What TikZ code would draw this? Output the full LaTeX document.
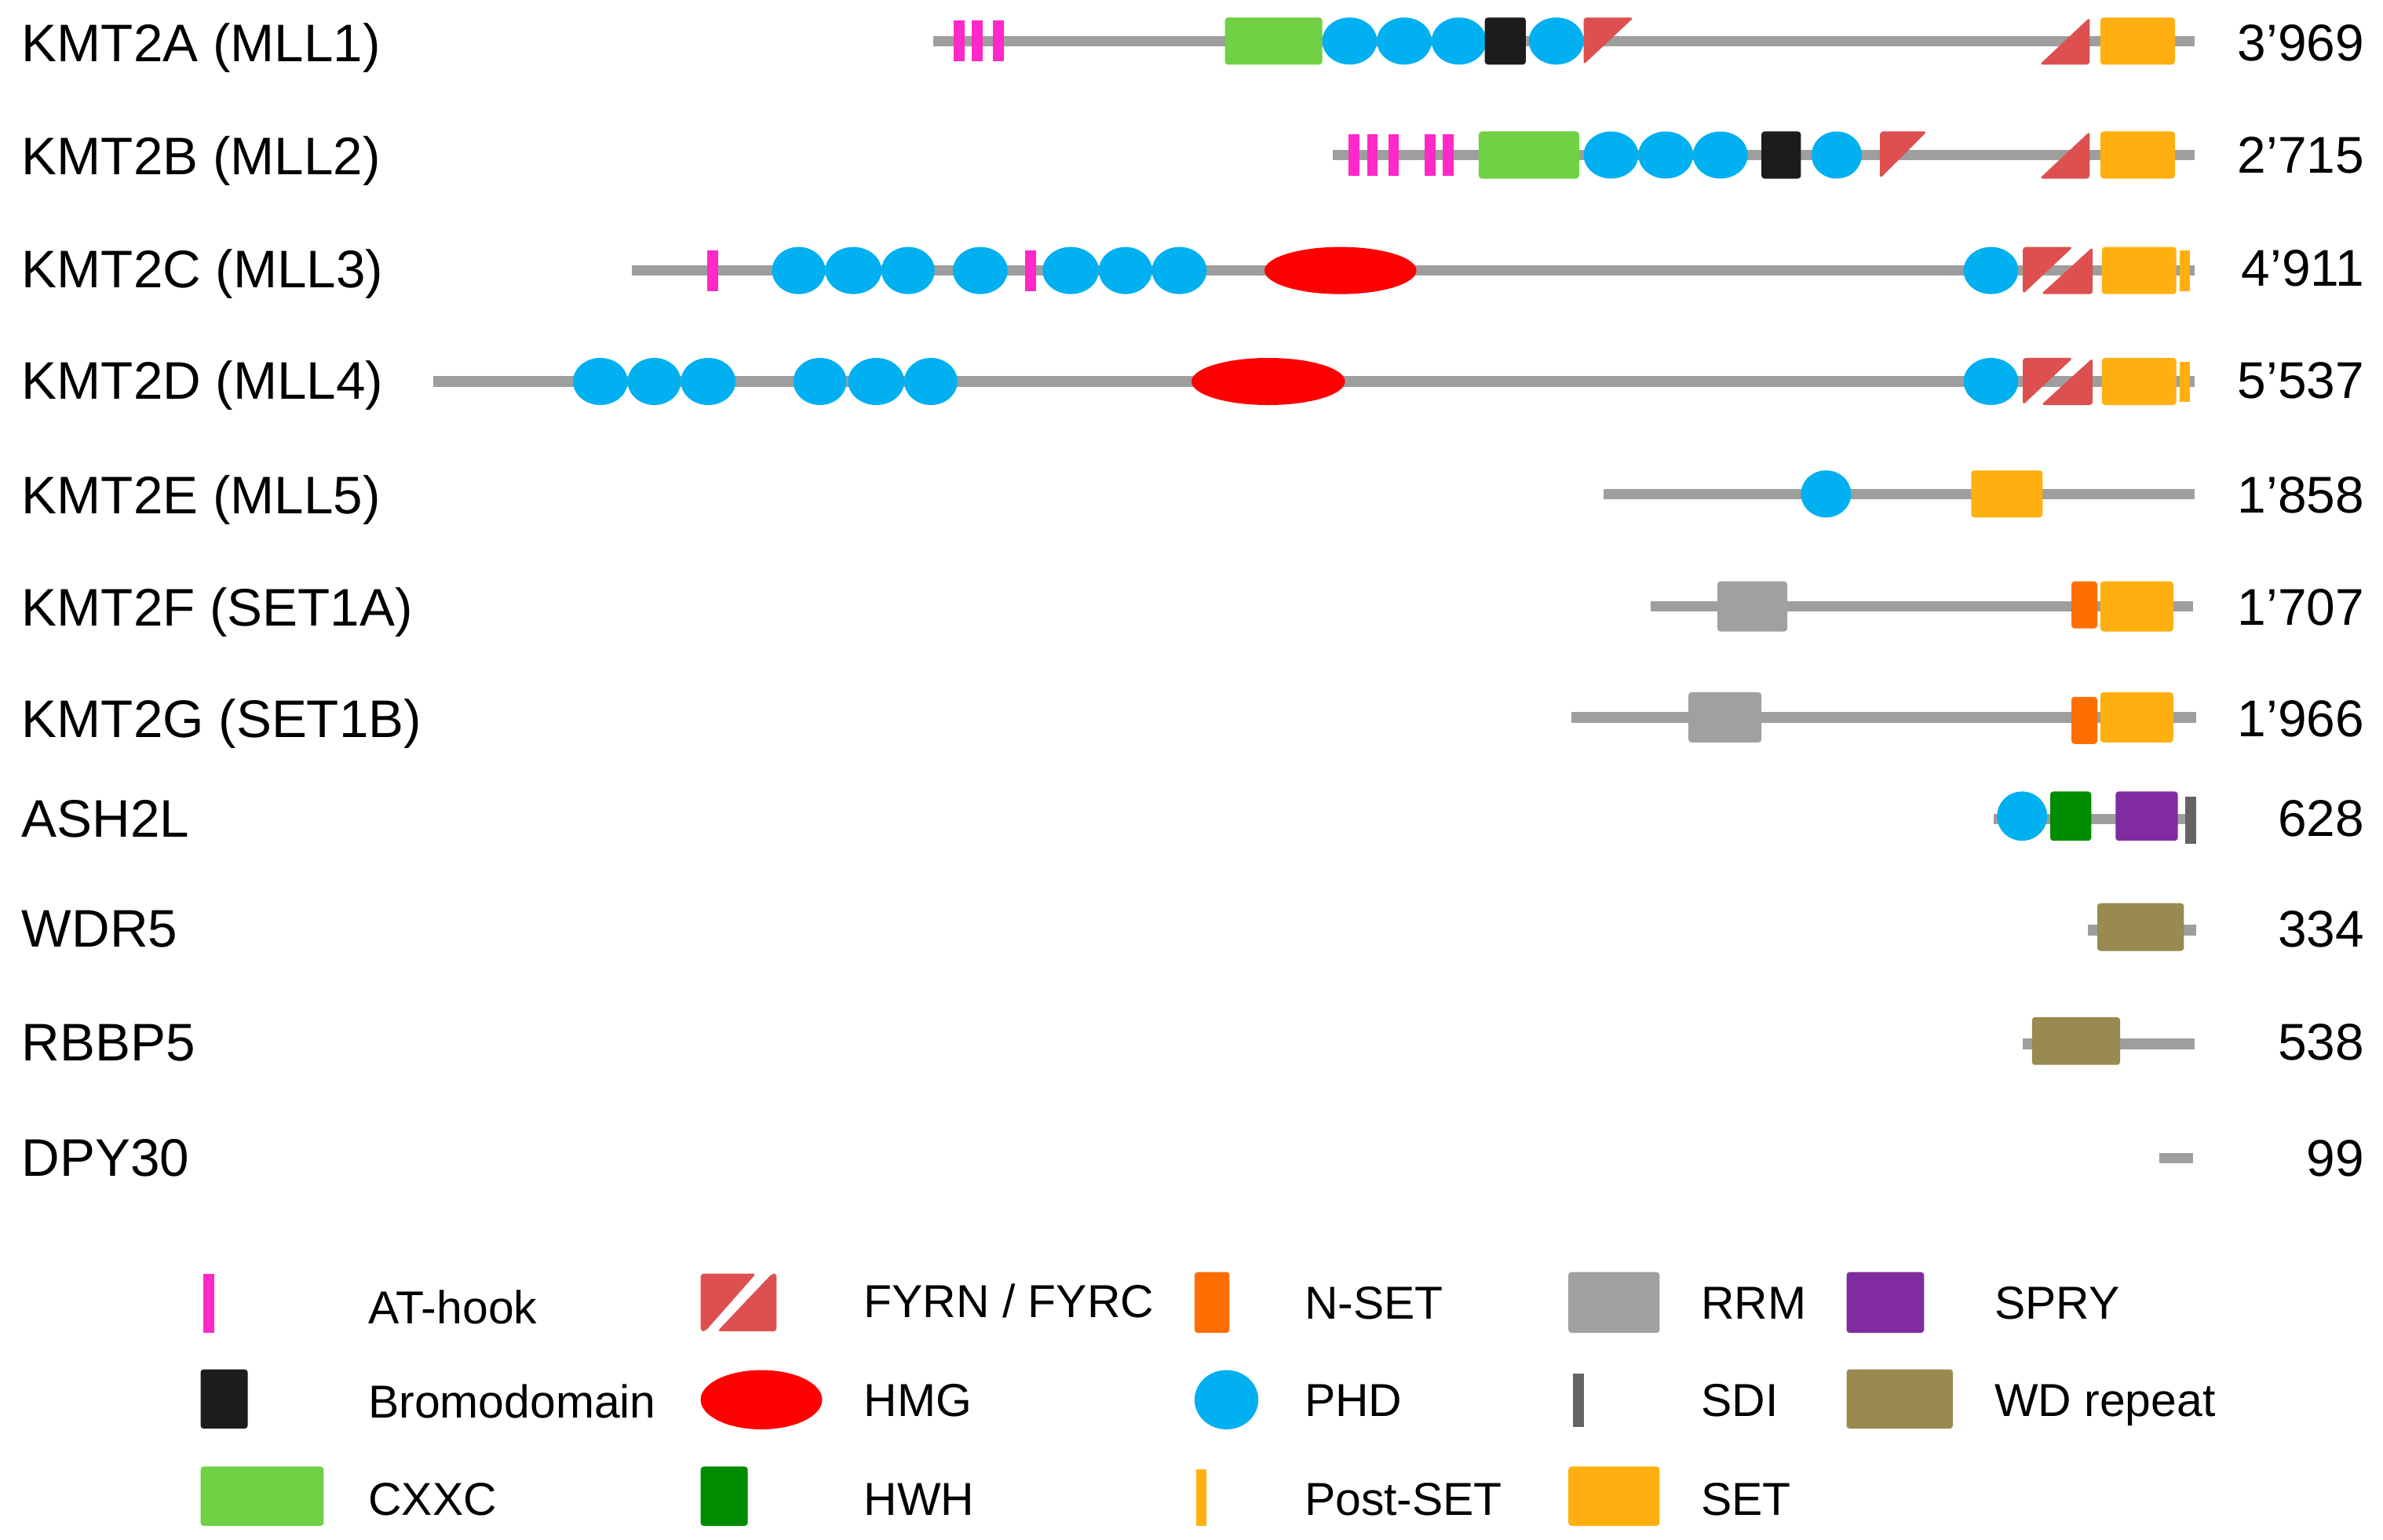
\documentclass[tikz,border=0pt]{standalone}
\usepackage{fontspec}
\setmainfont{Liberation Sans}
\definecolor{bbgrey}{RGB}{158,158,158}
\definecolor{athook}{RGB}{255,40,200}
\definecolor{cxxc}{RGB}{111,209,67}
\definecolor{phd}{RGB}{0,176,240}
\definecolor{brom}{RGB}{28,28,28}
\definecolor{fyr}{RGB}{221,80,79}
\definecolor{setc}{RGB}{255,176,16}
\definecolor{hmg}{RGB}{255,0,0}
\definecolor{nset}{RGB}{255,110,0}
\definecolor{rrm}{RGB}{160,160,160}
\definecolor{spry}{RGB}{128,44,160}
\definecolor{sdi}{RGB}{100,100,100}
\definecolor{wdr}{RGB}{153,138,80}
\definecolor{hwh}{RGB}{0,140,0}
\tikzset{
  backbone/.style={draw=bbgrey, line width=3.5pt},
  lbl/.style={anchor=base west, inner sep=0pt, font=\fontsize{17.4}{20}\selectfont},
  num/.style={anchor=base east, inner sep=0pt, font=\fontsize{17}{20}\selectfont},
  leg/.style={anchor=base west, inner sep=0pt, font=\fontsize{15.2}{18}\selectfont},
}
% helpers (coordinates in reference pixels of the 1568 wide view)
\newcommand\bbline[3]{\draw[backbone] (#1,#3) -- (#2,#3);}
\newcommand\dombox[4]{\fill[#1,rounded corners=1pt] (#2,{#4-15.5}) rectangle (#3,{#4+15.5});}
\newcommand\domboxh[5]{\fill[#1,rounded corners=1pt] (#2,{#4-#5}) rectangle (#3,{#4+#5});}
\newcommand\domell[4]{\fill[#1] ({(#2+#3)/2},#4) ellipse [x radius={((#3)-(#2))/4*1pt}, y radius=7.75pt];}
\newcommand\domtick[3]{\fill[#1] ({#2-3.5},{#3-13.5}) rectangle ({#2+3.5},{#3+13.5});}
\newcommand\fyrn[3]{\fill[fyr,rounded corners=1pt] (#1,{#3-15.5}) -- (#2,{#3-15.5}) -- (#1,{#3+15.5}) -- cycle;}
\newcommand\fyrc[3]{\fill[fyr,rounded corners=1pt] (#2,{#3-15.5}) -- (#2,{#3+15.5}) -- (#1,{#3+15.5}) -- cycle;}
\begin{document}
\begin{tikzpicture}[x=0.5pt,y=-0.5pt]
\useasboundingbox (0,0) rectangle (1568,1013);

% ---------- Row 1: KMT2A ----------
\bbline{614}{1444}{27}
\domtick{athook}{631}{27}\domtick{athook}{643}{27}\domtick{athook}{657}{27}
\dombox{cxxc}{806}{870}{27}
\domell{phd}{870}{906}{27}\domell{phd}{906}{942}{27}\domell{phd}{942}{978}{27}
\dombox{brom}{977}{1004}{27}
\domell{phd}{1006}{1042}{27}
\fyrn{1042}{1075}{27}
\fyrc{1342}{1375}{27}
\dombox{setc}{1382}{1431}{27}

% ---------- Row 2: KMT2B ----------
\bbline{877}{1444}{102}
\domtick{athook}{891}{102}\domtick{athook}{903}{102}\domtick{athook}{917}{102}
\domtick{athook}{941}{102}\domtick{athook}{953}{102}
\dombox{cxxc}{973}{1039}{102}
\domell{phd}{1042}{1078}{102}\domell{phd}{1078}{1114}{102}\domell{phd}{1114}{1150}{102}
\dombox{brom}{1159}{1185}{102}
\domell{phd}{1192}{1225}{102}
\fyrn{1237}{1268}{102}
\fyrc{1342}{1375}{102}
\dombox{setc}{1382}{1431}{102}

% ---------- Row 3: KMT2C ----------
\bbline{416}{1444}{178}
\domtick{athook}{469}{178}
\domell{phd}{508}{543}{178}\domell{phd}{543}{580}{178}\domell{phd}{580}{615}{178}
\domell{phd}{627}{663}{178}
\domtick{athook}{678}{178}
\domell{phd}{686}{723}{178}\domell{phd}{723}{758}{178}\domell{phd}{758}{794}{178}
\domell{hmg}{832}{932}{178}
\domell{phd}{1292}{1328}{178}
\fyrn{1331}{1364}{178}
\fyrc{1343}{1377}{178}
\dombox{setc}{1383}{1432}{178}
\fill[setc] (1434,{178-13}) rectangle (1441,{178+13.5});

% ---------- Row 4: KMT2D ----------
\bbline{285}{1444}{251}
\domell{phd}{377}{413}{251}\domell{phd}{413}{448}{251}\domell{phd}{448}{484}{251}
\domell{phd}{522}{557}{251}\domell{phd}{558}{595}{251}\domell{phd}{595}{630}{251}
\domell{hmg}{784}{885}{251}
\domell{phd}{1292}{1328}{251}
\fyrn{1331}{1364}{251}
\fyrc{1343}{1377}{251}
\dombox{setc}{1383}{1432}{251}
\fill[setc] (1434,{251-13}) rectangle (1441,{251+13.5});

% ---------- Row 5: KMT2E ----------
\bbline{1055}{1444}{325}
\domell{phd}{1185}{1218}{325}
\dombox{setc}{1297}{1344}{325}

% ---------- Row 6: KMT2F ----------
\bbline{1086}{1443}{399}
\domboxh{rrm}{1130}{1176}{399}{16.5}
\dombox{nset}{1363}{1380}{398}
\domboxh{setc}{1382}{1430}{399}{16.5}

% ---------- Row 7: KMT2G ----------
\bbline{1034}{1445}{472}
\domboxh{rrm}{1111}{1159}{472}{16.5}
\dombox{nset}{1363}{1380}{474}
\domboxh{setc}{1382}{1430}{472}{16.5}

% ---------- Row 8: ASH2L ----------
\bbline{1312}{1445}{539}
\fill[phd] (1330.5,537) ellipse [x radius=8.25pt, y radius=8.1pt];
\domboxh{hwh}{1349}{1376}{537}{16.2}
\domboxh{spry}{1392}{1433}{537}{16.2}
\fill[sdi] (1438,524) rectangle (1445,555);

% ---------- Row 9: WDR5 ----------
\bbline{1374}{1445}{612}
\domboxh{wdr}{1380}{1437}{610}{15.7}

% ---------- Row 10: RBBP5 ----------
\bbline{1331}{1444}{687}
\domboxh{wdr}{1337}{1395}{685}{15.7}

% ---------- Row 11: DPY30 ----------
\bbline{1421}{1443}{762}

% ---------- Protein names ----------
\node[lbl] (n1) at (14,40.5) {KMT2A (MLL1)};
\node[lbl] (n2) at (14,115) {KMT2B (MLL2)};
\node[lbl] (n3) at (14,189.5) {KMT2C (MLL3)};
\node[lbl] (n4) at (14,262.5) {KMT2D (MLL4)};
\node[lbl] (n5) at (14,338) {KMT2E (MLL5)};
\node[lbl] (n6) at (14,412) {KMT2F (SET1A)};
\node[lbl] (n7) at (14,485) {KMT2G (SET1B)};
\node[lbl] (n8) at (14,551) {ASH2L};
\node[lbl] (n9) at (14,623) {WDR5};
\node[lbl] (n10) at (14,698) {RBBP5};
\node[lbl] (n11) at (14,774) {DPY30};

% ---------- Lengths ----------
\node[num] (m1) at (1556,40) {3’969};
\node[num] (m2) at (1556,114) {2’715};
\node[num] (m3) at (1556,188.5) {4’911};
\node[num] (m4) at (1556,262) {5’537};
\node[num] (m5) at (1556,337.5) {1’858};
\node[num] (m6) at (1556,411.5) {1’707};
\node[num] (m7) at (1556,484.5) {1’966};
\node[num] (m8) at (1556,550.5) {628};
\node[num] (m9) at (1556,623) {334};
\node[num] (m10) at (1556,697.5) {538};
\node[num] (m11) at (1556,774) {99};

% ---------- Legend ----------
% row 1
\fill[athook] (134,838) rectangle (141,877);
\node[leg] (t1) at (242,871) {AT-hook};
\fill[fyr,rounded corners=1pt] (461,838) -- (497.5,838) -- (464,876) -- (461,876) -- cycle;
\fill[fyr,rounded corners=1pt] (508,838) -- (511,838) -- (511,876) -- (472,876) -- cycle;
\node[leg] (t2) at (568,867) {FYRN / FYRC};
\fill[nset,rounded corners=1pt] (786,837) rectangle (809,877);
\node[leg] (t3) at (858,868) {N-SET};
\fill[rrm,rounded corners=1pt] (1032,837) rectangle (1092,877);
\node[leg] (t4) at (1119,868) {RRM};
\fill[spry,rounded corners=1pt] (1215,837) rectangle (1266,877);
\node[leg] (t5) at (1312,868) {SPRY};
% row 2
\fill[brom,rounded corners=1pt] (132,901) rectangle (163,940);
\node[leg] (t6) at (242,933) {Bromodomain};
\fill[hmg] (501,921) ellipse [x radius=20pt, y radius=9.75pt];
\node[leg] (t7) at (568,932) {HMG};
\fill[phd] (807,921) ellipse [x radius=10.5pt, y radius=9.75pt];
\node[leg] (t8) at (858,932) {PHD};
\fill[sdi] (1035,904) rectangle (1042,939);
\node[leg] (t9) at (1119,932) {SDI};
\fill[wdr,rounded corners=1pt] (1215,901) rectangle (1285,940);
\node[leg] (t10) at (1312,932) {WD repeat};
% row 3
\fill[cxxc,rounded corners=1pt] (132,965) rectangle (213,1004);
\node[leg] (t11) at (242,997) {CXXC};
\fill[hwh,rounded corners=1pt] (461,965) rectangle (492,1004);
\node[leg] (t12) at (568,997) {HWH};
\fill[setc] (787,967) rectangle (794,1004);
\node[leg] (t13) at (858,997) {Post-SET};
\fill[setc,rounded corners=1pt] (1032,965) rectangle (1092,1004);
\node[leg] (t14) at (1119,997) {SET};
\end{tikzpicture}
\end{document}
